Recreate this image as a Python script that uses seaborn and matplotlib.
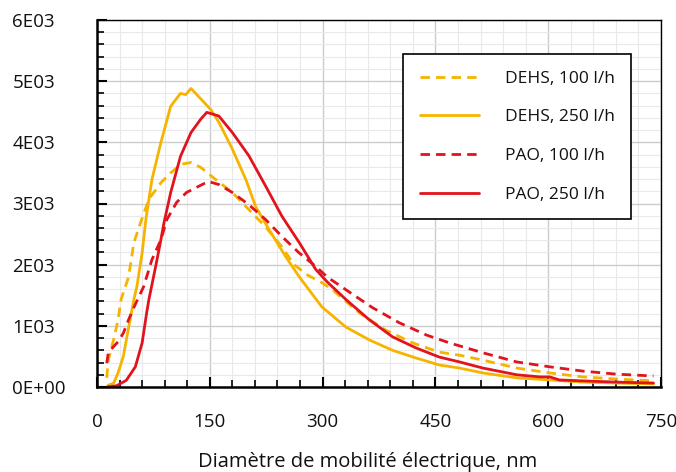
import numpy as np
import matplotlib.pyplot as plt
import matplotlib.ticker as mticker
import seaborn as sns
import pandas as pd

# Theme first, then the font list (set_theme resets font.family)
sns.set_theme(style="white")
plt.rcParams['font.family'] = ['Open Sans', 'DejaVu Sans']

# Data
dehs_100_x = [13, 15, 22, 28, 32, 42, 49, 58, 69, 85, 98, 111, 125, 138, 158, 180, 202, 224, 246, 262, 280, 300, 313, 349, 384, 420, 455, 482, 513, 558, 602, 646, 691, 740]
dehs_100_y = [150, 440, 770, 1100, 1430, 1800, 2360, 2690, 3070, 3340, 3500, 3640, 3670, 3590, 3390, 3180, 2900, 2620, 2290, 2000, 1830, 1700, 1590, 1210, 930, 720, 570, 520, 440, 310, 230, 165, 130, 100]

dehs_250_x = [15, 22, 28, 35, 39, 44, 49, 53, 60, 65, 73, 85, 98, 111, 118, 125, 135, 151, 162, 180, 198, 211, 229, 251, 269, 299, 331, 362, 393, 424, 455, 482, 513, 558, 602, 646, 690, 740]
dehs_250_y = [30, 60, 230, 500, 770, 1100, 1430, 1640, 2190, 2740, 3390, 4000, 4590, 4800, 4780, 4880, 4750, 4540, 4330, 3890, 3390, 2950, 2570, 2130, 1800, 1310, 980, 770, 600, 475, 360, 310, 230, 150, 115, 80, 65, 50]

pao_100_x = [13, 15, 22, 28, 35, 42, 49, 62, 73, 85, 93, 106, 119, 135, 148, 162, 180, 202, 224, 246, 269, 291, 306, 331, 366, 402, 438, 469, 513, 558, 602, 646, 691, 740]
pao_100_y = [390, 560, 660, 740, 880, 1100, 1300, 1640, 2080, 2410, 2740, 3020, 3180, 3280, 3360, 3310, 3180, 2980, 2740, 2460, 2190, 1970, 1800, 1590, 1300, 1050, 850, 720, 560, 410, 330, 260, 210, 180]

pao_250_x = [13, 26, 39, 51, 60, 66, 69, 78, 85, 89, 98, 111, 125, 138, 146, 162, 180, 202, 224, 246, 269, 291, 306, 331, 362, 393, 424, 455, 482, 513, 558, 589, 602, 615, 646, 691, 740]
pao_250_y = [0, 20, 110, 330, 720, 1210, 1430, 1970, 2410, 2680, 3180, 3770, 4160, 4380, 4490, 4430, 4160, 3780, 3290, 2790, 2360, 1920, 1720, 1430, 1100, 820, 640, 490, 410, 310, 200, 165, 165, 115, 100, 80, 65]

y_ticks = [0, 1000, 2000, 3000, 4000, 5000, 6000]
y_tick_labels = ["0E+00", "1E03", "2E03", "3E03", "4E03", "5E03", "6E03"]
x_ticks = [0, 150, 300, 450, 600, 750]

orange = "#F6B400"
red = "#E2131C"
dash = (0, (3.4, 2.2))
lw = 2.0

fig, ax = plt.subplots(figsize=(6.76, 4.72), dpi=100)
fig.subplots_adjust(left=97/676, right=661/676, top=1-20/472, bottom=1-387/472)

sns.lineplot(x=dehs_100_x, y=dehs_100_y, ax=ax, color=orange, linewidth=lw, linestyle=dash, label="DEHS, 100 l/h")
sns.lineplot(x=dehs_250_x, y=dehs_250_y, ax=ax, color=orange, linewidth=lw, label="DEHS, 250 l/h")
sns.lineplot(x=pao_100_x, y=pao_100_y, ax=ax, color=red, linewidth=lw, linestyle=dash, label="PAO, 100 l/h")
sns.lineplot(x=pao_250_x, y=pao_250_y, ax=ax, color=red, linewidth=lw, label="PAO, 250 l/h")

ax.set_xlim(0, 750)
ax.set_ylim(0, 6000)
ax.set_xticks(x_ticks)
ax.set_yticks(y_ticks)
ax.set_yticklabels(y_tick_labels, ha="left", va="center_baseline")
ax.xaxis.set_minor_locator(mticker.MultipleLocator(30))
ax.yaxis.set_minor_locator(mticker.MultipleLocator(200))

# Grid, major and minor
ax.set_axisbelow(True)
ax.grid(which="major", color="#cccccc", linewidth=1.0)
ax.grid(which="minor", color="#e9e9e9", linewidth=0.8)

# Frame
for side in ["left", "bottom"]:
    ax.spines[side].set_linewidth(1.8)
    ax.spines[side].set_color("black")
for side in ["top", "right"]:
    ax.spines[side].set_linewidth(1.0)
    ax.spines[side].set_color("black")

ax.tick_params(which="both", direction="in", color="black", left=True, bottom=True, labelsize=13.5, labelcolor="#111111")
ax.tick_params(which="major", length=7, width=1.5)
ax.tick_params(which="minor", length=5, width=1.2)
ax.tick_params(axis="y", which="major", pad=61)
ax.tick_params(axis="x", which="major", pad=19)

ax.set_xlabel("Diamètre de mobilité électrique, nm", fontsize=14.5, color="#111111")
ax.xaxis.set_label_coords(0.479, -0.176)
ax.set_ylabel("")

leg = ax.legend(loc="upper right", bbox_to_anchor=(0.947, 0.907), frameon=True, fancybox=False,
                edgecolor="black", framealpha=1, fontsize=12.5, handlelength=3.4,
                labelspacing=1.3, borderpad=0.95, handletextpad=1.5, borderaxespad=0)
leg.get_frame().set_linewidth(1.2)
for t in leg.get_texts():
    t.set_color("#111111")

plt.savefig("out.png", dpi=100)
